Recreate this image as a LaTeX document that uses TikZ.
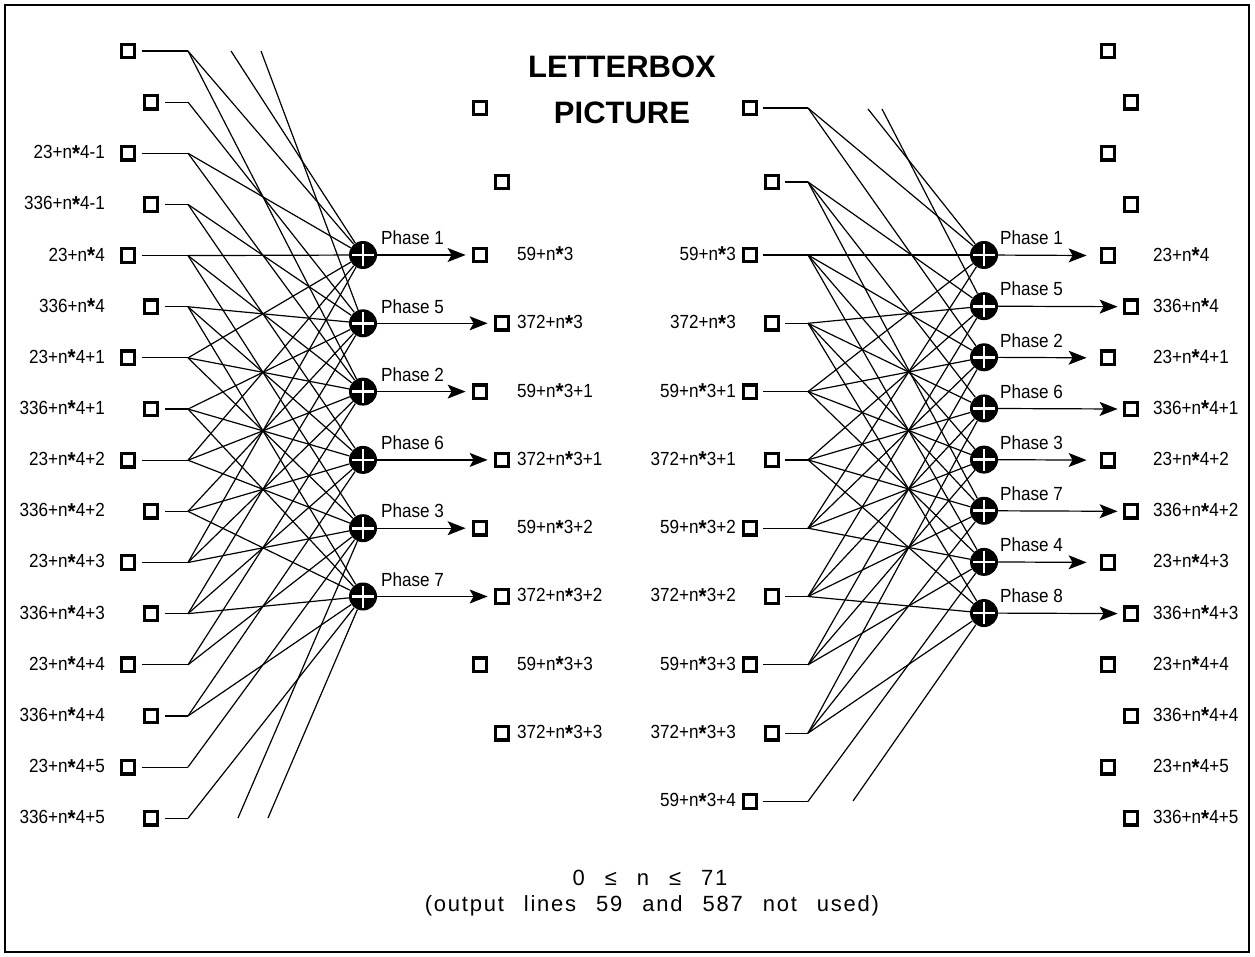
\documentclass[tikz,border=0pt]{standalone}
\usepackage{fontspec}
\setmainfont{Liberation Sans}
\newfontfamily\lbf[FakeStretch=0.9]{Liberation Sans}
\usetikzlibrary{arrows.meta}
\newcommand\wsp{\hspace{20pt}}
\newcommand\st{\raisebox{-2.5pt}{\bfseries\fontsize{23}{23}\selectfont*}}
\begin{document}
\begin{tikzpicture}[x=1pt,y=-1pt,
  sq/.style={draw, line width=3.3pt, minimum size=13.5pt, inner sep=0pt, fill=white},
  ph/.style={circle, fill=black, minimum size=28pt, inner sep=0pt,
    path picture={\draw[white,line width=2.8pt]
      ([xshift=-11pt]path picture bounding box.center) -- ([xshift=11pt]path picture bounding box.center)
      ([yshift=-11pt]path picture bounding box.center) -- ([yshift=11pt]path picture bounding box.center);}},
  lab/.style={font={\lbf\fontsize{19}{19}\selectfont}, inner sep=0pt},
  conn/.style={line width=1.2pt},
  arr/.style={line width=1.2pt, -{Stealth[length=18pt,width=14pt,inset=4pt]}},
  ttl/.style={font={\fontsize{31}{31}\selectfont\bfseries}, inner sep=0pt},
  foot/.style={font={\fontsize{22}{22}\selectfont\addfontfeature{LetterSpace=8}}, inner sep=0pt}
]
\useasboundingbox (0,0) rectangle (1255,957);
\draw[line width=1.2pt] (5,5) rectangle (1249,952);

% titles
\node[ttl] (t1) at (622,67) {LETTERBOX};
\node[ttl] (t2) at (622,113) {PICTURE};
\node[foot] (f1) at (650,878) {0\hspace{20pt}≤\hspace{20pt}n\hspace{20pt}≤\hspace{20pt}71};
\node[foot] (f2) at (652,906) {(output\wsp lines\wsp 59\wsp and\wsp 587\wsp not\wsp used)};

% ---------------- LEFT ----------------
\foreach \r in {0,...,15} {
  \pgfmathsetmacro\yy{51+51.15*\r}
  \pgfmathsetmacro\xx{isodd(\r)?151:128}
  \node[sq] (L\r) at (\xx,\yy) {};
  \coordinate (LB\r) at (188,\yy);
  \draw[conn, shorten <=6pt] (L\r) -- (LB\r);
}
\foreach \r/\t in {2/23+n\st4-1,3/336+n\st4-1,4/23+n\st4,5/336+n\st4,6/23+n\st4+1,7/336+n\st4+1,
  8/23+n\st4+2,9/336+n\st4+2,10/23+n\st4+3,11/336+n\st4+3,12/23+n\st4+4,13/336+n\st4+4,
  14/23+n\st4+5,15/336+n\st4+5} {
  \node[lab,anchor=east] (LL\r) at (105,{51+51.15*\r}) {\t};
}
\foreach \k/\n in {0/1,1/5,2/2,3/6,4/3,5/7} {
  \node[ph] (LP\k) at (363,{255+68.3*\k}) {};
  \node[lab,anchor=west] (LPL\k) at (381,{238+68.3*\k}) {Phase \n};
}
\node[sq] (LOa) at (480,108) {};
\node[sq] (LOb) at (502,182) {};
\foreach \j/\t in {0/59+n\st3,1/372+n\st3,2/59+n\st3+1,3/372+n\st3+1,4/59+n\st3+2,5/372+n\st3+2,6/59+n\st3+3,7/372+n\st3+3} {
  \pgfmathsetmacro\xx{isodd(\j)?502:480}
  \node[sq] (LO\j) at (\xx,{255+68.3*\j}) {};
  \node[lab,anchor=west] (LOL\j) at (517,{255+68.3*\j}) {\t};
}
\foreach \k in {0,...,5} { \draw[arr, shorten >=6pt] (LP\k) -- (LO\k); }
\foreach \k/\rs in {0/{0,2,4,6,8,10},1/{1,3,5,7,9,11},2/{0,2,4,6,8,10,12},
  3/{3,5,7,9,11,13},4/{4,6,8,10,12,14},5/{5,7,9,11,13,15}} {
  \foreach \r in \rs { \draw[conn] (LB\r) -- (LP\k); }
}
\coordinate (LT1) at (231,51); \coordinate (LT2) at (261,51);
\coordinate (LD1) at (238,818); \coordinate (LD2) at (268,818);
\draw[conn] (LT1) -- (LP0); \draw[conn] (LT2) -- (LP1);
\draw[conn] (LD1) -- (LP4); \draw[conn] (LD2) -- (LP5);

% ---------------- RIGHT ----------------
\node[sq] (RI0) at (750,108) {}; \coordinate (RB0) at (808,108);
\node[sq] (RI1) at (772,182) {}; \coordinate (RB1) at (808,182);
\foreach \r in {2,...,10} {
  \pgfmathsetmacro\yy{255+68.3*(\r-2)}
  \pgfmathsetmacro\xx{isodd(\r)?772:750}
  \node[sq] (RI\r) at (\xx,\yy) {};
  \coordinate (RB\r) at (808,\yy);
}
\foreach \r in {0,...,10} { \draw[conn, shorten <=5pt] (RI\r) -- (RB\r); }
\foreach \r/\t in {2/59+n\st3,3/372+n\st3,4/59+n\st3+1,5/372+n\st3+1,6/59+n\st3+2,7/372+n\st3+2,
  8/59+n\st3+3,9/372+n\st3+3,10/59+n\st3+4} {
  \node[lab,anchor=east] (RIL\r) at (736,{255+68.3*(\r-2)}) {\t};
}
\foreach \k/\n in {0/1,1/5,2/2,3/6,4/3,5/7,6/4,7/8} {
  \node[ph] (RP\k) at (984,{255+51.15*\k}) {};
  \node[lab,anchor=west] (RPL\k) at (1000,{238+51.15*\k}) {Phase \n};
}
\foreach \r in {0,...,15} {
  \pgfmathsetmacro\yy{51+51.15*\r}
  \pgfmathsetmacro\xx{isodd(\r)?1131:1108}
  \node[sq] (RO\r) at (\xx,\yy) {};
}
\foreach \r/\t in {4/23+n\st4,5/336+n\st4,6/23+n\st4+1,7/336+n\st4+1,8/23+n\st4+2,9/336+n\st4+2,
  10/23+n\st4+3,11/336+n\st4+3,12/23+n\st4+4,13/336+n\st4+4,14/23+n\st4+5,15/336+n\st4+5} {
  \node[lab,anchor=west] (ROL\r) at (1153,{51+51.15*\r}) {\t};
}
\foreach \k in {0,2,4,6} { \pgfmathtruncatemacro\o{\k+4} \draw[arr, shorten >=13pt] (RP\k) -- (RO\o); }
\foreach \k in {1,3,5,7} { \pgfmathtruncatemacro\o{\k+4} \draw[arr, shorten >=5pt] (RP\k) -- (RO\o); }
\foreach \k/\rs in {0/{0,2,4,6},1/{1,3,5,7},2/{0,2,4,6,8},3/{1,3,5,7,9},
  4/{2,4,6,8},5/{1,3,5,7,9},6/{2,4,6,8,10},7/{3,5,7,9}} {
  \foreach \r in \rs { \draw[conn] (RB\r) -- (RP\k); }
}
\coordinate (RT1) at (868,109); \coordinate (RT2) at (882,109);
\coordinate (RD1) at (853,801);
\draw[conn] (RT1) -- (RP0); \draw[conn] (RT2) -- (RP1);
\draw[conn] (RD1) -- (RP7);
\end{tikzpicture}
\end{document}
